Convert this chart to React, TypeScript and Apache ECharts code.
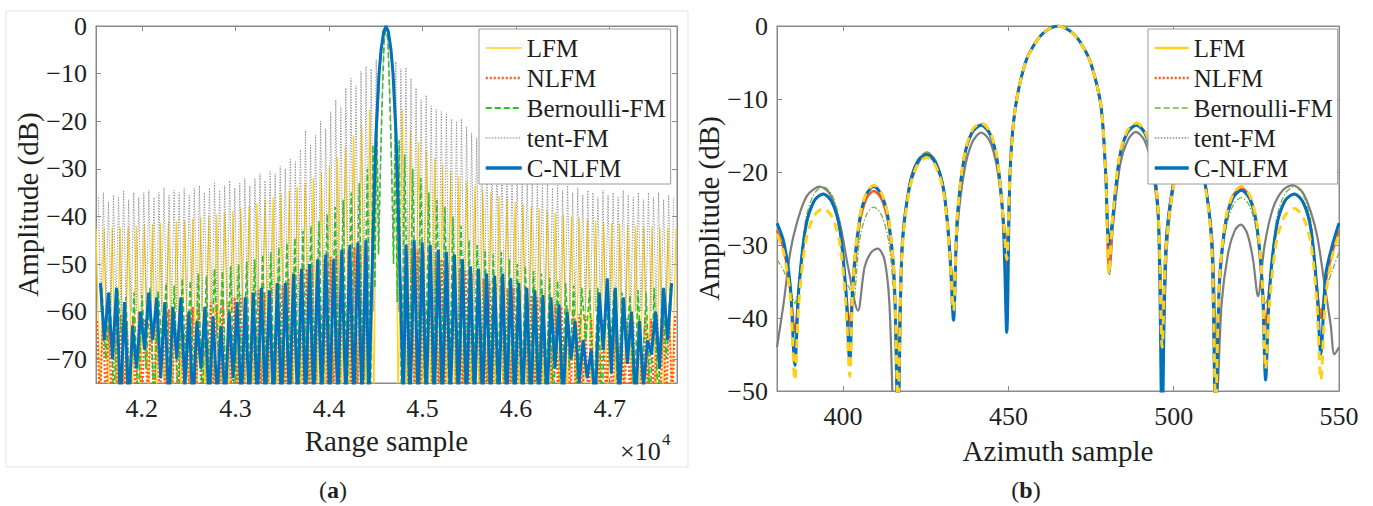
import React, { useEffect, useRef } from 'react';
import * as echarts from 'echarts';

// ================= (a) Range profile =================
const RANGE_CENTER = 44610;
const RANGE_MIN = 41510;
const RANGE_MAX = 47720;
const RANGE_X_TICKS = [42000, 43000, 44000, 45000, 46000, 47000];
const RANGE_Y_TICKS = [-70, -60, -50, -40, -30, -20, -10, 0];

// lobe layout (offset of first sidelobe from peak, sidelobe period), in samples
const LFM_LOBE = { off: 175, period: 86 };
const NLFM_LOBE = { off: 210, period: 64 };
const BERN_LOBE = { off: 200, period: 86 };
const TENT_LOBE = { off: 105, period: 54 };
const CNLFM_LOBE = { off: 215, period: 86 };

// LFM sidelobe peaks (dB), left edge -> centre, centre -> right edge
const LFM_PEAKS_L = [-42.6, -42.5, -42.4, -42.3, -42.1, -42, -41.8, -41.6, -41.4, -41.2, -41, -40.8, -40.5, -40.2, -39.9, -39.6, -39.2, -38.8, -38.3, -37.8, -37.2, -36.6, -35.9, -35.2, -34.5, -33.8, -33, -32, -30.8, -29.3, -27.5, -25.5, -23, -20.8, -17.6];
const LFM_PEAKS_R = [-17.6, -22, -24.3, -26.2, -27.8, -29.2, -30.5, -31.6, -32.6, -33.5, -34.3, -35, -35.7, -36.3, -36.9, -37.4, -37.9, -38.4, -38.8, -39.2, -39.6, -40, -40.3, -40.6, -40.9, -41.2, -41.4, -41.6, -41.8, -42, -42.2, -42.3, -42.4, -42.5, -42.6];
const LFM_NULL = -80;
const LFM_MAIN_OFF = [-130, -100, -60, -30, 0, 30, 60, 100, 130];
const LFM_MAIN = [-80, -25, -8, -2, 0, -2, -8, -25, -80];

const NLFM_PEAKS_L = [-62, -61, -62.5, -61, -60.5, -62, -61, -60, -61.5, -60.5, -60, -61, -59.5, -60, -59, -60.5, -59, -58.5, -59.5, -58, -58.5, -57.5, -58, -57, -56.5, -57, -56, -55.5, -56, -55, -54, -54.5, -53, -52.5, -52, -51, -50.5, -50, -49, -48.5, -48, -47.5, -47, -46.5, -46, -46];
const NLFM_PEAKS_R = [-46, -46.5, -47, -47.5, -48, -48.5, -49, -50, -50.5, -51, -51.5, -52, -52.5, -53, -53.5, -54, -54.5, -55, -55, -55.5, -56, -56.5, -57, -57.5, -58, -58.5, -59, -59.5, -60, -60.5, -61, -61.5, -62, -61.5, -62, -62.5, -62, -61.5, -62, -61.5, -61, -61.5, -60.5, -61, -60, -60.5];
const NLFM_NULL = -80;
const WIDE_MAIN_OFF = [-185, -160, -140, -107, -75, -53, -25, 0, 25, 53, 75, 107, 140, 160, 185];
const WIDE_MAIN = [-80, -60, -45, -22.5, -10, -5, -1.2, 0, -1.2, -5, -10, -22.5, -45, -60, -80];

const BERN_PEAKS_L = [-55, -56, -55.5, -57, -56, -56.5, -55, -55.5, -54, -54.5, -53, -53.5, -52, -52.5, -51, -51.5, -50.5, -50, -49.5, -49, -48, -47.5, -46.5, -45.5, -44.5, -43, -42, -41, -39.5, -38, -36.5, -35, -33, -30];
const BERN_NULLS_L = [-70, -80, -66, -80, -80, -72, -80, -68, -80, -80, -74, -80, -80, -80, -70, -80, -80, -80, -80, -80, -80, -80, -80, -80, -80, -80, -80, -80, -80, -80, -80, -80, -80];
const BERN_PEAKS_R = [-27, -30, -32, -35, -36.5, -38, -40, -42, -45, -46, -47, -48, -47.5, -49, -50, -50.5, -51.5, -52, -53, -53.5, -54, -54.5, -55, -55.5, -55, -56, -55.5, -56, -56.5, -55.5, -56, -55, -55.5, -55];
const BERN_NULLS_R = [-80, -80, -80, -80, -80, -80, -80, -80, -80, -80, -80, -80, -80, -80, -80, -80, -80, -80, -80, -80, -72, -80, -66, -80, -80, -70, -80, -68, -80, -74, -80, -80, -70];
const BERN_MAIN_OFF = [-165, -140, -120, -100, -80, -60, -40, -20, 0, 20, 40, 60, 80, 100, 120, 140, 165];
const BERN_MAIN = [-80, -25, -55, -19.5, -48, -30, -15, -3, 0, -3, -15, -30, -50, -20, -58, -24, -80];

const TENT_PEAKS_L = [-36, -35, -37, -35.5, -36, -34.5, -36.5, -35, -36, -35, -34.5, -36, -35, -34, -35.5, -34.5, -35, -34, -35.5, -34, -33.5, -35, -34, -33, -34.5, -33.5, -32.5, -34, -33, -32, -33.5, -32, -31, -32.5, -30.5, -31, -29.5, -30, -28, -28.5, -26, -22, -25, -23, -20, -21.5, -18, -15.5, -17, -13, -11, -12.5, -9.5, -8.5, -9, -7];
const TENT_PEAKS_R = [-7.5, -9, -8.7, -11, -13, -15.5, -14.5, -16.8, -17.5, -18, -18.3, -19.5, -20, -19.5, -21.2, -22.5, -23.5, -25, -26, -27.5, -28, -29, -30, -30.5, -31.5, -31, -32.5, -32, -33, -33.5, -32.5, -34, -33.5, -34.5, -33.5, -35, -34, -35.5, -34.5, -35, -36, -34.5, -35.5, -35, -36, -34.5, -35.5, -36, -35, -36.5, -35, -36, -35, -36.5, -35.5, -36];
const TENT_NULL = -60;
const TENT_MAIN_OFF = [-75, -50, -25, 0, 25, 50, 75];
const TENT_MAIN = [-45, -20, -5, 0, -5, -20, -45];

const CNLFM_PEAKS_L = [-54, -56, -55, -58, -63, -60, -56, -57, -58, -59, -57, -60, -62, -59, -61, -63, -60, -58, -57, -56, -55, -55.5, -54, -54, -52, -51, -50, -49, -48, -49, -47, -46, -45.5, -45];
const CNLFM_NULLS_L = [-66, -70, -80, -80, -72, -68, -66, -74, -80, -70, -76, -80, -72, -80, -78, -80, -74, -80, -80, -80, -80, -80, -80, -80, -80, -80, -80, -80, -80, -80, -80, -80, -80];
const CNLFM_PEAKS_R = [-46, -45, -45.5, -46, -47, -47.5, -48, -49, -50.5, -51, -52, -52.5, -52, -53, -54, -55, -55.5, -56.5, -57, -58.5, -60, -62, -66, -68, -56, -53, -55, -57, -60, -62, -66, -60, -55, -54];
const CNLFM_NULLS_R = [-80, -80, -80, -80, -80, -80, -80, -80, -80, -80, -80, -80, -80, -80, -80, -80, -80, -80, -72, -80, -70, -75, -74, -80, -68, -73, -80, -71, -80, -76, -69, -72, -66];

// ================= (b) Azimuth profile =================
const AZ_X = [380, 382, 384, 385.4, 386.6, 388.7, 391.2, 394, 396.7, 399, 400.8, 402, 403, 405, 407.1, 409.3, 411.7, 413.8, 415.5, 416.6, 417.8, 420, 422.5, 425.3, 428, 430.4, 432.2, 433.4, 434.5, 436.6, 439, 441.8, 444.4, 446.6, 448.4, 449.5, 450.5, 452, 455, 458, 461, 465, 469, 472, 475, 478, 479.4, 480.4, 481.5, 483.6, 486, 488.8, 491.4, 493.6, 495.4, 496.5, 497.6, 499.7, 502.2, 505, 507.6, 509.8, 511.6, 512.7, 513.8, 515.7, 518, 520.5, 523, 525.1, 526.8, 527.8, 529, 531.1, 533.6, 536.5, 539.2, 541.5, 543.3, 544.5, 546, 548, 550];
const AZ_X_TICKS = [400, 450, 500, 550];

const LFM_AZ = [-28.5, -31, -37, -48.5,
  -38, -29.5, -26, -25, -26.2, -29.8, -38, -48,
  -34.8, -26.3, -22.8, -21.8, -23, -26.6, -34.8, -52,
  -31, -22.5, -19, -18, -19.2, -22.8, -31, -39,
  -26.3, -17.8, -14.3, -13.3, -14.5, -18.1, -26.3, -32,
  -20, -11.5, -5.2, -2.4, -0.8, 0, -0.8, -2.4, -5.2, -11, -20, -34,
  -26.3, -17.8, -14.3, -13.3, -14.5, -18.1, -26.3, -44,
  -31, -22.5, -19, -18, -19.2, -22.8, -31, -52,
  -35, -26.5, -23, -22, -23.2, -26.8, -35, -47,
  -38, -29.5, -26, -25, -26.2, -29.8, -38, -48.5,
  -37, -31.5, -28.5];

const NLFM_AZ = [-28, -30.5, -36, -42,
  -36, -27.5, -24, -23, -24.2, -27.8, -36, -41,
  -35.6, -27.1, -23.6, -22.6, -23.8, -27.4, -35.6, -51,
  -30.6, -22.1, -18.6, -17.6, -18.8, -22.4, -30.6, -38,
  -26.5, -18, -14.5, -13.5, -14.7, -18.3, -26.5, -35,
  -20, -11.5, -5.2, -2.4, -0.8, 0, -0.8, -2.4, -5.2, -11, -20, -33,
  -26.5, -18, -14.5, -13.5, -14.7, -18.3, -26.5, -45,
  -30.6, -22.1, -18.6, -17.6, -18.8, -22.4, -30.6, -51,
  -35.2, -26.7, -23.2, -22.2, -23.4, -27, -35.2, -41,
  -36, -27.5, -24, -23, -24.2, -27.8, -36, -40,
  -35, -31, -28];

const BERN_AZ = [-32, -33.5, -36, -38,
  -35, -26.5, -23, -22, -23.2, -26.8, -35, -36,
  -37.8, -29.3, -25.8, -24.8, -26, -29.6, -37.8, -47,
  -30.3, -21.8, -18.3, -17.3, -18.5, -22.1, -30.3, -37,
  -26.6, -18.1, -14.6, -13.6, -14.8, -18.4, -26.6, -33,
  -20, -11.5, -5.2, -2.4, -0.8, 0, -0.8, -2.4, -5.2, -11, -20, -33,
  -26.6, -18.1, -14.6, -13.6, -14.8, -18.4, -26.6, -42,
  -30.3, -21.8, -18.3, -17.3, -18.5, -22.1, -30.3, -47,
  -36.5, -28, -24.5, -23.5, -24.7, -28.3, -36.5, -38,
  -35, -26.5, -23, -22, -23.2, -26.8, -35, -39,
  -36, -33.5, -31];

const CNLFM_AZ = [-27, -29.5, -35.5, -46.5,
  -36, -27.5, -24, -23, -24.2, -27.8, -36, -46,
  -35, -26.5, -23, -22, -23.2, -26.8, -35, -56,
  -30.6, -22.1, -18.6, -17.6, -18.8, -22.4, -30.6, -40.3,
  -26.6, -18.1, -14.6, -13.6, -14.8, -18.4, -26.6, -42,
  -20, -11.5, -5.2, -2.4, -0.8, 0, -0.8, -2.4, -5.2, -11, -20, -30,
  -26.6, -18.1, -14.6, -13.6, -14.8, -18.4, -26.6, -56,
  -30.6, -22.1, -18.6, -17.6, -18.8, -22.4, -30.6, -56,
  -35.5, -27, -23.5, -22.5, -23.7, -27.3, -35.5, -48.5,
  -36, -27.5, -24, -23, -24.2, -27.8, -36, -45,
  -34, -30, -27];

const TENT_AZ_X = [380, 382, 384, 386, 389, 393, 396, 399, 401.5, 404.5, 406.5, 408.5, 410.5, 412.5, 414, 415.5, 416.6, 418, 420, 422.5, 425.3, 428, 430.4, 432.2, 433.4, 434.5, 436.6, 439, 441.8, 444.4, 446.6, 448.4, 449.5, 450.5, 452, 455, 458, 461, 465, 469, 472, 475, 478, 479.4, 480.6, 481.7, 483.8, 486.2, 488.5, 491.2, 493.5, 495.4, 496.8, 498, 500, 502.4, 505, 507.6, 509.8, 511.8, 513.2, 514.5, 516.5, 518.5, 520.3, 522.3, 524, 525.5, 527.5, 530, 533, 536, 539, 541.5, 543.5, 545.5, 547.5, 548.6, 550];
const TENT_AZ = [-44, -38, -31, -27, -23.3, -22, -23, -27, -33, -39, -33, -31, -30.5, -32, -38, -56, -45, -30, -22.5, -19, -17.3, -18.5, -22.5, -30, -38, -28, -20, -16, -14.6, -15.8, -19.5, -26, -30, -20, -11.5, -5.2, -2.4, -0.8, 0, -0.8, -2.4, -5.2, -11, -20, -34, -27, -19, -15.6, -14.5, -15.7, -19.5, -27, -42, -30, -22, -18.5, -17.5, -18.7, -22.5, -30, -50, -38, -31, -28, -27.2, -28.5, -32, -37, -30, -25, -22.5, -21.8, -22.8, -25.5, -29, -35, -41, -45, -44];
const AZ_Y_TICKS = [-50, -40, -30, -20, -10, 0];

// ---------------------------------------------------------
type Lobe = { off: number; period: number };
function buildRange(
  peaksL: number[], nullsL: number[] | number,
  peaksR: number[], nullsR: number[] | number,
  lobe: Lobe, mainOff: number[], mainVal: number[]
): number[][] {
  const pts: number[][] = [];
  const nL = peaksL.length;
  for (let i = 0; i < nL; i++) {
    const x = RANGE_CENTER - lobe.off - (nL - 1 - i) * lobe.period;
    pts.push([x, peaksL[i]]);
    if (i < nL - 1) pts.push([x + lobe.period / 2, Array.isArray(nullsL) ? nullsL[i] : nullsL]);
  }
  mainOff.forEach((o, k) => pts.push([RANGE_CENTER + o, mainVal[k]]));
  for (let j = 0; j < peaksR.length; j++) {
    const x = RANGE_CENTER + lobe.off + j * lobe.period;
    pts.push([x, peaksR[j]]);
    if (j < peaksR.length - 1) pts.push([x + lobe.period / 2, Array.isArray(nullsR) ? nullsR[j] : nullsR]);
  }
  return pts;
}
const zip = (xs: number[], ys: number[]) => xs.map((x, i) => [x, ys[i]]);

const FONT = "'Liberation Serif', 'Times New Roman', serif";
const AXIS_COLOR = '#8a8a8a';
const TEXT_COLOR = '#1f1f1f';
const minus = (v: number) => (v < 0 ? '\u2212' + Math.abs(v) : String(v));

const C_YEL = '#FFD11C';
const C_RED = '#FF5722';
const C_GRN_A = '#22C322';
const C_GRN_B = '#78B43A';
const C_GRY_A = '#8f8f8f';
const C_GRY_B = '#7d7d7d';
const C_BLU = '#0072BD';

function xAxisPair(grid: number, min: number, max: number, ticks: number[], fmt: (v: number) => string, name: string, nameGap: number) {
  return [
    {
      gridIndex: grid, type: 'value', min, max, name, nameLocation: 'middle', nameGap,
      nameTextStyle: { fontFamily: FONT, fontSize: 29, color: TEXT_COLOR },
      axisLine: { show: true, onZero: false, lineStyle: { color: AXIS_COLOR, width: 1 } },
      axisTick: { show: true, inside: true, length: 5, customValues: ticks, lineStyle: { color: AXIS_COLOR } },
      axisLabel: { show: true, customValues: ticks, formatter: fmt, fontFamily: FONT, fontSize: 26, color: TEXT_COLOR, margin: 12 },
      splitLine: { show: false },
    },
    {
      gridIndex: grid, type: 'value', min, max, position: 'top',
      axisLine: { show: true, onZero: false, lineStyle: { color: AXIS_COLOR, width: 1 } },
      axisTick: { show: true, inside: true, length: 5, customValues: ticks, lineStyle: { color: AXIS_COLOR } },
      axisLabel: { show: false },
      splitLine: { show: false },
    },
  ];
}
function yAxisPair(grid: number, min: number, max: number, ticks: number[], nameGap: number) {
  return [
    {
      gridIndex: grid, type: 'value', min, max, name: 'Amplitude (dB)', nameLocation: 'middle', nameGap,
      nameTextStyle: { fontFamily: FONT, fontSize: 29, color: TEXT_COLOR },
      axisLine: { show: true, onZero: false, lineStyle: { color: AXIS_COLOR, width: 1 } },
      axisTick: { show: true, inside: true, length: 5, customValues: ticks, lineStyle: { color: AXIS_COLOR } },
      axisLabel: { show: true, customValues: ticks, formatter: minus, fontFamily: FONT, fontSize: 26, color: TEXT_COLOR, margin: 9 },
      splitLine: { show: false },
    },
    {
      gridIndex: grid, type: 'value', min, max, position: 'right',
      axisLine: { show: true, onZero: false, lineStyle: { color: AXIS_COLOR, width: 1 } },
      axisTick: { show: true, inside: true, length: 5, customValues: ticks, lineStyle: { color: AXIS_COLOR } },
      axisLabel: { show: false },
      splitLine: { show: false },
    },
  ];
}

function lineSeries(name: string, data: number[][], xi: number, yi: number, lineStyle: any, smooth: number | boolean = false) {
  return {
    type: 'line', name, data, xAxisIndex: xi, yAxisIndex: yi,
    symbol: 'none', showSymbol: false, smooth, clip: true,
    itemStyle: { color: lineStyle.color },
    lineStyle, emphasis: { disabled: true }, silent: true,
  };
}

const legendCommon = {
  orient: 'vertical', itemWidth: 36, itemHeight: 14, itemGap: 0,
  padding: [4, 5, 1, 5], borderColor: '#9a9a9a', borderWidth: 1, backgroundColor: '#ffffff',
  selectedMode: false,
  itemStyle: { opacity: 0, borderWidth: 0 },
  textStyle: { fontFamily: FONT, fontSize: 25, color: TEXT_COLOR, lineHeight: 30 },
};

function buildOption() {
  const lfmA = buildRange(LFM_PEAKS_L, LFM_NULL, LFM_PEAKS_R, LFM_NULL, LFM_LOBE, LFM_MAIN_OFF, LFM_MAIN);
  const nlfmA = buildRange(NLFM_PEAKS_L, NLFM_NULL, NLFM_PEAKS_R, NLFM_NULL, NLFM_LOBE, WIDE_MAIN_OFF, WIDE_MAIN);
  const bernA = buildRange(BERN_PEAKS_L, BERN_NULLS_L, BERN_PEAKS_R, BERN_NULLS_R, BERN_LOBE, BERN_MAIN_OFF, BERN_MAIN);
  const tentA = buildRange(TENT_PEAKS_L, TENT_NULL, TENT_PEAKS_R, TENT_NULL, TENT_LOBE, TENT_MAIN_OFF, TENT_MAIN);
  const cnlfmA = buildRange(CNLFM_PEAKS_L, CNLFM_NULLS_L, CNLFM_PEAKS_R, CNLFM_NULLS_R, CNLFM_LOBE, WIDE_MAIN_OFF, WIDE_MAIN);

  const xA = xAxisPair(0, RANGE_MIN, RANGE_MAX, RANGE_X_TICKS, (v: number) => (v / 10000).toFixed(1), 'Range sample', 43);
  const xB = xAxisPair(1, 380, 550, AZ_X_TICKS, (v: number) => String(v), 'Azimuth sample', 45);
  const yA = yAxisPair(0, -75, 0, RANGE_Y_TICKS, 52);
  const yB = yAxisPair(1, -50, 0, AZ_Y_TICKS, 51);

  return {
    animation: false,
    backgroundColor: '#ffffff',
    textStyle: { fontFamily: FONT },
    grid: [
      { left: 96, top: 26, width: 581, height: 357, show: true, borderColor: AXIS_COLOR, borderWidth: 1, backgroundColor: 'transparent' },
      { left: 777, top: 26, width: 562, height: 365, show: true, borderColor: AXIS_COLOR, borderWidth: 1, backgroundColor: 'transparent' },
    ],
    xAxis: [...xA, ...xB],
    yAxis: [...yA, ...yB],
    legend: [
      {
        ...legendCommon, left: 479, top: 29,
        data: [
          { name: 'LFM', lineStyle: { color: C_YEL, width: 1.5, type: 'solid' } },
          { name: 'NLFM', lineStyle: { color: C_RED, width: 2.5, type: [2, 2] } },
          { name: 'Bernoulli-FM', lineStyle: { color: C_GRN_A, width: 1.8, type: [6, 3] } },
          { name: 'tent-FM', lineStyle: { color: '#777777', width: 1.2, type: [1.5, 1.5] } },
          { name: 'C-NLFM', lineStyle: { color: C_BLU, width: 3.5, type: 'solid' } },
        ],
      },
      {
        ...legendCommon, left: 1148, top: 29, itemWidth: 34,
        data: [
          { name: 'LFM', lineStyle: { color: C_YEL, width: 2.5, type: 'solid' } },
          { name: 'NLFM', lineStyle: { color: C_RED, width: 2.5, type: [2, 2] } },
          { name: 'Bernoulli-FM', lineStyle: { color: C_GRN_B, width: 1.5, type: [6, 3] } },
          { name: 'tent-FM', lineStyle: { color: '#555555', width: 1.2, type: [1.5, 1.5] } },
          { name: 'C-NLFM', lineStyle: { color: C_BLU, width: 3.5, type: 'solid' } },
        ],
      },
    ],
    series: [
      lineSeries('LFM', lfmA, 0, 0, { color: C_YEL, width: 1.2, type: 'solid' }),
      lineSeries('NLFM', nlfmA, 0, 0, { color: C_RED, width: 2.2, type: [2, 2] }),
      lineSeries('Bernoulli-FM', bernA, 0, 0, { color: C_GRN_A, width: 1.6, type: [6, 3] }),
      lineSeries('tent-FM', tentA, 0, 0, { color: C_GRY_A, width: 1, type: [1.2, 1.5] }),
      lineSeries('C-NLFM', cnlfmA, 0, 0, { color: C_BLU, width: 3, type: 'solid' }),

      lineSeries('tent-FM', zip(TENT_AZ_X, TENT_AZ), 2, 2, { color: C_GRY_B, width: 2.2, type: 'solid' }, 0.3),
      lineSeries('Bernoulli-FM', zip(AZ_X, BERN_AZ), 2, 2, { color: C_GRN_B, width: 1.3, type: [6, 2, 1.5, 2] }, 0.3),
      lineSeries('NLFM', zip(AZ_X, NLFM_AZ), 2, 2, { color: C_RED, width: 2.5, type: 'solid' }, 0.3),
      lineSeries('C-NLFM', zip(AZ_X, CNLFM_AZ), 2, 2, { color: C_BLU, width: 3, type: 'solid' }, 0.3),
      lineSeries('LFM', zip(AZ_X, LFM_AZ), 2, 2, { color: C_YEL, width: 3, type: [9, 6] }, 0.3),
    ],
    graphic: [
      { type: 'rect', silent: true, z: -10, shape: { x: 6, y: 11, width: 682, height: 456 }, style: { fill: 'none', stroke: '#e4e4e4', lineWidth: 1 } },
      { type: 'text', silent: true, x: 620, y: 451, style: { text: '\u00d710', fontFamily: FONT, fontSize: 26, fill: TEXT_COLOR, verticalAlign: 'middle', align: 'left' } },
      { type: 'text', silent: true, x: 662, y: 439, style: { text: '4', fontFamily: FONT, fontSize: 17, fill: TEXT_COLOR, verticalAlign: 'middle', align: 'left' } },
      {
        type: 'text', silent: true, x: 333, y: 490,
        style: { text: '({b|a})', fontFamily: FONT, fontSize: 24, fill: TEXT_COLOR, align: 'center', verticalAlign: 'middle', rich: { b: { fontWeight: 'bold', fontSize: 24, fontFamily: FONT, fill: TEXT_COLOR } } },
      },
      {
        type: 'text', silent: true, x: 1026, y: 490,
        style: { text: '({b|b})', fontFamily: FONT, fontSize: 24, fill: TEXT_COLOR, align: 'center', verticalAlign: 'middle', rich: { b: { fontWeight: 'bold', fontSize: 24, fontFamily: FONT, fill: TEXT_COLOR } } },
      },
    ],
  };
}

export default function App() {
  const ref = useRef<HTMLDivElement>(null);
  useEffect(() => {
    document.body.style.margin = '0';
    const chart = echarts.init(ref.current as HTMLDivElement, null, { renderer: 'svg' });
    chart.setOption(buildOption() as any);
    return () => chart.dispose();
  }, []);
  return <div ref={ref} style={{ position: 'absolute', left: 0, top: 0, width: 1373, height: 506, background: '#ffffff' }} />;
}
